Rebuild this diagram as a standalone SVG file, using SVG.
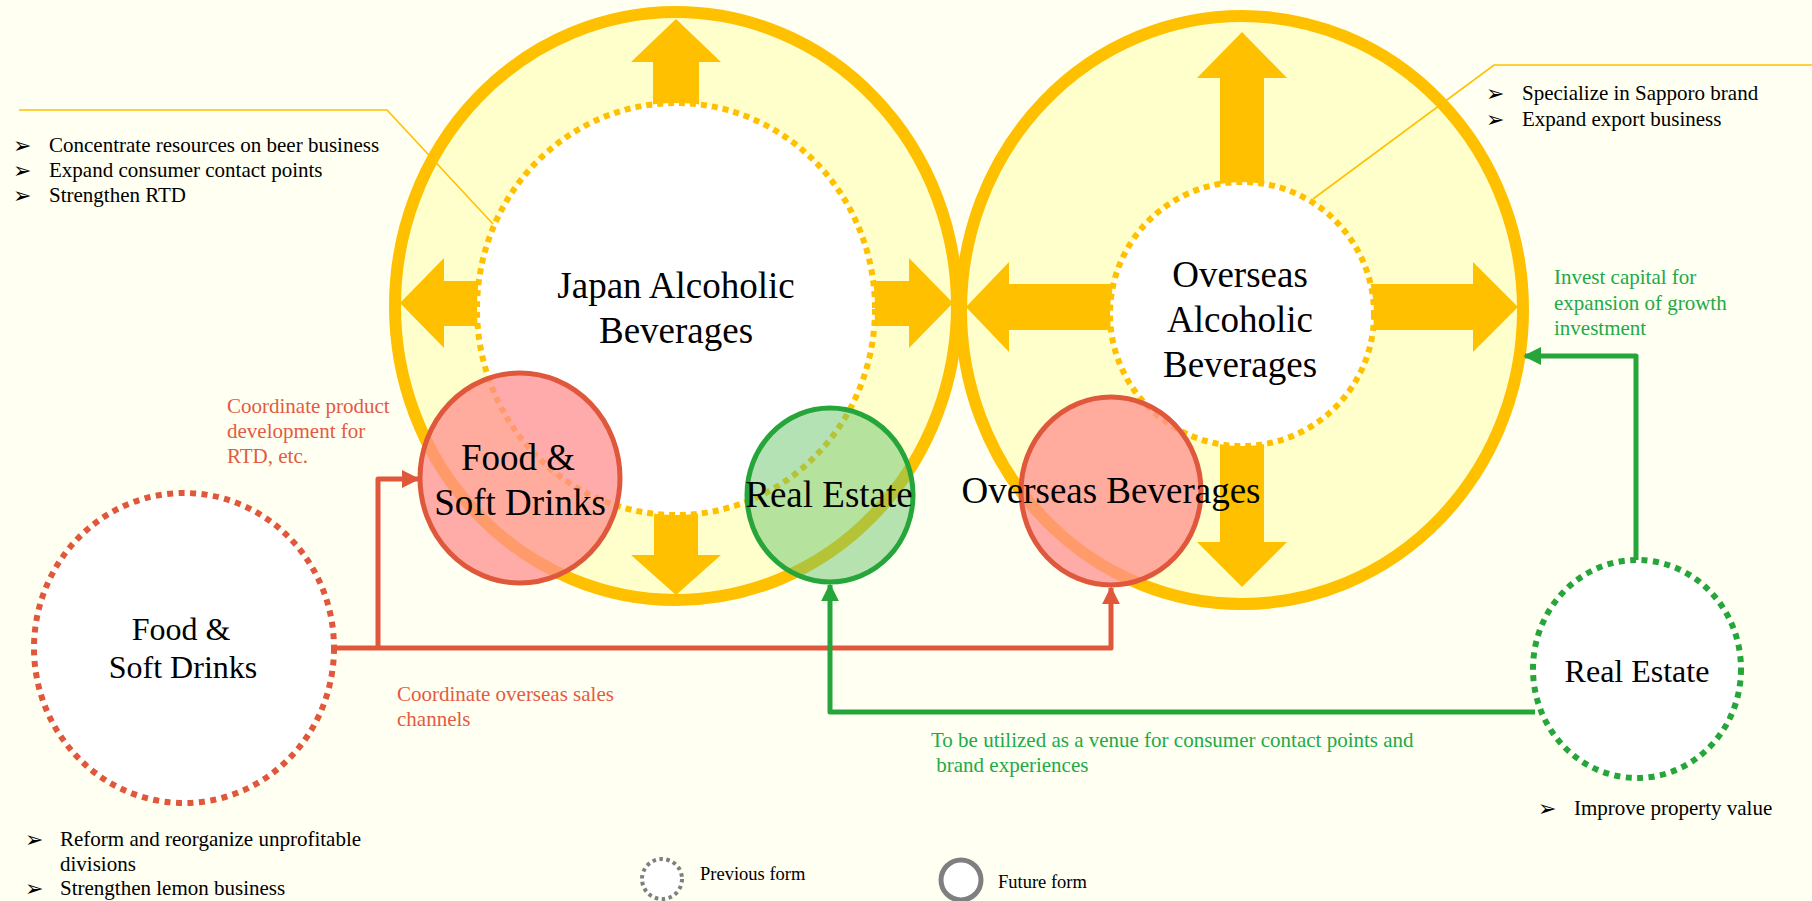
<svg xmlns="http://www.w3.org/2000/svg" width="1812" height="901" viewBox="0 0 1812 901">
  <style>
    text { font-family: "Liberation Serif", "Times New Roman", serif; fill: #000; }
    .big { font-size: 37px; text-anchor: middle; }
    .mid { font-size: 32px; text-anchor: middle; }
    .note { font-size: 21px; }
    .bul { font-family: "DejaVu Sans", sans-serif; font-size: 22px; }
    .red { fill: #E35B44; }
    .grn { fill: #22AA48; }
    .ring { fill: #FFFFCC; stroke: #FFC000; stroke-width: 12; }
    .core { fill: #FFFFFF; stroke: #FFC000; stroke-width: 6; stroke-dasharray: 6 5; }
    .arw { fill: #FFC000; }
    .lead { fill: none; stroke: #FFC000; stroke-width: 1.6; }
    .redc { fill: #FF8F8F; fill-opacity: 0.75; stroke: #E0583C; stroke-width: 5; }
    .grnc { fill: #6CC66C; fill-opacity: 0.5; stroke: #26A63A; stroke-width: 5; }
    .prev-red { fill: #FFFFFF; stroke: #E0583C; stroke-width: 6; stroke-dasharray: 6 5.5; }
    .prev-grn { fill: #FFFFFF; stroke: #26A63A; stroke-width: 6; stroke-dasharray: 6 5.5; }
    .wire-red { fill: none; stroke: #E0583C; stroke-width: 5; stroke-linejoin: round; }
    .wire-grn { fill: none; stroke: #26A63A; stroke-width: 5; stroke-linejoin: round; }
  </style>
  <defs>
    <marker id="head-red" viewBox="0 0 10 10" refX="9" refY="5" markerWidth="3.6" markerHeight="3.6" markerUnits="strokeWidth" orient="auto">
      <path d="M0,0 L10,5 L0,10 z" fill="#E0583C"/>
    </marker>
    <marker id="head-grn" viewBox="0 0 10 10" refX="9" refY="5" markerWidth="3.6" markerHeight="3.6" markerUnits="strokeWidth" orient="auto">
      <path d="M0,0 L10,5 L0,10 z" fill="#26A63A"/>
    </marker>
  </defs>

  <rect width="1812" height="901" fill="#FFFFF2"/>

  <!-- Domestic alcoholic beverages: outer growth ring with four expansion arrows -->
  <g id="japan-alcoholic">
    <ellipse class="ring" cx="676" cy="306" rx="281" ry="294"/>
    <polygon class="arw" points="653,110 653,62 631,62 676,19 721,62 699,62 699,110"/>
    <polygon class="arw" points="654,505 654,555 631,555 676,595 721,555 698,555 698,505"/>
    <polygon class="arw" points="486,281 444,281 444,258 400,303 444,348 444,326 486,326"/>
    <polygon class="arw" points="865,281 909,281 909,258 953,303 909,348 909,326 865,326"/>
    <ellipse class="core" cx="676" cy="309" rx="199" ry="206"/>
    <text class="big" x="676" y="298">Japan Alcoholic</text>
    <text class="big" x="676" y="343">Beverages</text>
  </g>

  <!-- Overseas alcoholic beverages -->
  <g id="overseas-alcoholic">
    <ellipse class="ring" cx="1242" cy="310" rx="281" ry="294"/>
    <polygon class="arw" points="1220,192 1220,78 1197,78 1242,32 1287,78 1264,78 1264,192"/>
    <polygon class="arw" points="1220,437 1220,542 1197,542 1242,587 1287,542 1264,542 1264,437"/>
    <polygon class="arw" points="1119,284 1009,284 1009,262 966,307 1009,352 1009,330 1119,330"/>
    <polygon class="arw" points="1365,284 1473,284 1473,262 1518,307 1473,352 1473,330 1365,330"/>
    <circle class="core" cx="1242" cy="314" r="132"/>
    <text class="big" x="1240" y="287">Overseas</text>
    <text class="big" x="1240" y="332">Alcoholic</text>
    <text class="big" x="1240" y="377">Beverages</text>
  </g>

  <!-- Callout leaders for the two bullet lists at the top -->
  <g id="leaders">
    <polyline class="lead" points="19,110 387,110 493,224"/>
    <polyline class="lead" points="1812,65 1494,65 1313,199"/>
  </g>

  <!-- Businesses as they will sit inside the alcohol rings -->
  <g id="food-soft-drinks-future">
    <ellipse class="redc" cx="520" cy="478" rx="100" ry="105"/>
    <text class="big" x="518" y="470">Food &amp;</text>
    <text class="big" x="520" y="515">Soft Drinks</text>
  </g>

  <g id="real-estate-future">
    <ellipse class="grnc" cx="830" cy="495" rx="83" ry="87"/>
    <text class="big" x="829" y="507">Real Estate</text>
  </g>

  <g id="overseas-beverages">
    <ellipse class="redc" cx="1111" cy="491" rx="90" ry="94"/>
    <text class="big" x="1111" y="503">Overseas Beverages</text>
  </g>

  <!-- Businesses in their current, stand-alone form -->
  <g id="food-soft-drinks-previous">
    <ellipse class="prev-red" cx="184" cy="648" rx="150" ry="155"/>
    <text class="mid" x="181" y="640">Food &amp;</text>
    <text class="mid" x="183" y="678">Soft Drinks</text>
  </g>

  <g id="real-estate-previous">
    <ellipse class="prev-grn" cx="1637" cy="669" rx="104" ry="109"/>
    <text class="mid" x="1637" y="682">Real Estate</text>
  </g>

  <!-- Connectors between current and future forms -->
  <g id="connectors">
    <polyline class="wire-red" points="334,648 1111,648 1111,588" marker-end="url(#head-red)"/>
    <polyline class="wire-red" points="378,648 378,479 418,479" marker-end="url(#head-red)"/>
    <polyline class="wire-grn" points="1535,712 830,712 830,585" marker-end="url(#head-grn)"/>
    <polyline class="wire-grn" points="1636,560 1636,356 1525,356" marker-end="url(#head-grn)"/>
  </g>

  <!-- Connector labels -->
  <g id="connector-labels">
    <text class="note red" x="227" y="413">Coordinate product</text>
    <text class="note red" x="227" y="438">development for</text>
    <text class="note red" x="227" y="463">RTD, etc.</text>
    <text class="note red" x="397" y="701">Coordinate overseas sales</text>
    <text class="note red" x="397" y="726">channels</text>
    <text class="note grn" x="931" y="747">To be utilized as a venue for consumer contact points and</text>
    <text class="note grn" x="931" y="772" xml:space="preserve"> brand experiences</text>
    <text class="note grn" x="1554" y="284">Invest capital for</text>
    <text class="note grn" x="1554" y="310">expansion of growth</text>
    <text class="note grn" x="1554" y="335">investment</text>
  </g>

  <!-- Strategy bullet lists -->
  <g id="notes-japan">
    <text class="bul" x="13" y="153">➢</text>
    <text class="note" x="49" y="152">Concentrate resources on beer business</text>
    <text class="bul" x="13" y="178">➢</text>
    <text class="note" x="49" y="177">Expand consumer contact points</text>
    <text class="bul" x="13" y="203">➢</text>
    <text class="note" x="49" y="202">Strengthen RTD</text>
  </g>

  <g id="notes-overseas">
    <text class="bul" x="1486" y="101">➢</text>
    <text class="note" x="1522" y="100">Specialize in Sapporo brand</text>
    <text class="bul" x="1486" y="127">➢</text>
    <text class="note" x="1522" y="126">Expand export business</text>
  </g>

  <g id="notes-food">
    <text class="bul" x="25" y="847">➢</text>
    <text class="note" x="60" y="846">Reform and reorganize unprofitable</text>
    <text class="note" x="60" y="871">divisions</text>
    <text class="bul" x="25" y="896">➢</text>
    <text class="note" x="60" y="895">Strengthen lemon business</text>
  </g>

  <g id="notes-real-estate">
    <text class="bul" x="1538" y="816">➢</text>
    <text class="note" x="1574" y="815">Improve property value</text>
  </g>

  <!-- Legend -->
  <g id="legend">
    <circle cx="662" cy="879" r="20" fill="#FFFFFF" stroke="#7F7F7F" stroke-width="4" stroke-dasharray="3.5 3.5"/>
    <text x="700" y="880" font-size="18.5">Previous form</text>
    <circle cx="961" cy="880" r="20" fill="#FFFFFF" stroke="#7F7F7F" stroke-width="5"/>
    <text x="998" y="888" font-size="18.5">Future form</text>
  </g>
</svg>
